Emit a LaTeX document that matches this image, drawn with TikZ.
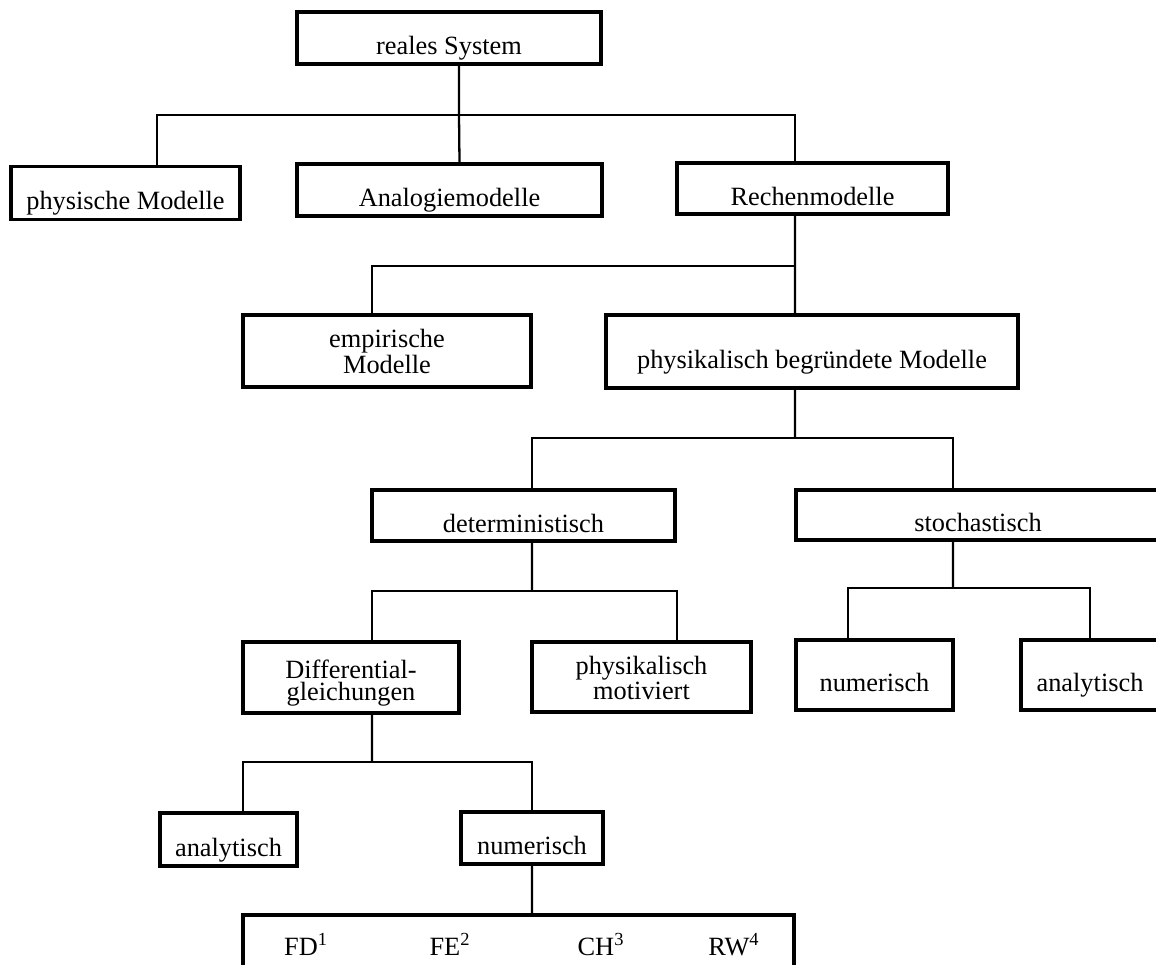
\documentclass[tikz,border=0pt]{standalone}
\usepackage{fontspec}
\setmainfont{Liberation Serif}
\tikzset{
box/.style={
draw,
line width=2pt,
inner sep=2pt,
font=\fontsize{15}{18}\selectfont,
text height=0.66cm,
text depth=0pt
},
twobox/.style={
draw,
line width=2pt,
inner sep=2pt,
align=center,
font=\fontsize{15}{12}\selectfont,
text height=0.9cm,
text depth=0pt
},
method/.style={
anchor=base,
font=\fontsize{15}{18}\selectfont
},
link/.style={
line width=1.3pt
}
}

\begin{document}
\begin{tikzpicture}[x=0.02cm,y=-0.02cm]
\useasboundingbox (0,0) rectangle (1156,964);

\node[box,minimum width=6.08cm,minimum height=1.04cm](rs) at (449,38){reales System};
\node[box,minimum width=4.58cm,minimum height=1.06cm](phy) at (125.5,193){physische Modelle};
\node[box,minimum width=6.10cm,minimum height=1.04cm](ana) at (449.5,190){Analogiemodelle};
\node[box,minimum width=5.42cm,minimum height=1.02cm](rech) at (812.5,188.5){Rechenmodelle};
\node[twobox,minimum width=5.76cm,minimum height=1.44cm](emp) at (387,351){empirische\\Modelle};
\node[box,minimum width=8.24cm,minimum height=1.46cm](pbm) at (812,351.5){physikalisch begr\"undete Modelle};
\node[box,minimum width=6.06cm,minimum height=1.02cm](det) at (523.5,515.5){deterministisch};
\node[box,minimum width=7.28cm,minimum height=1.00cm](sto) at (978,515){stochastisch};
\node[twobox,minimum width=4.32cm,minimum height=1.42cm](dgl) at (351,677.5){Differential-\\gleichungen};
\node[twobox,minimum width=4.38cm,minimum height=1.40cm](pmo) at (641.5,677){physikalisch\\motiviert};
\node[box,minimum width=3.14cm,minimum height=1.40cm](numS) at (874.5,675){numerisch};
\node[box,minimum width=2.76cm,minimum height=1.40cm](anaS) at (1090,675){analytisch};
\node[box,minimum width=2.74cm,minimum height=1.06cm](anaD) at (228.5,839.5){analytisch};
\node[box,minimum width=2.84cm,minimum height=1.04cm](numD) at (532,838){numerisch};
\node[box,minimum width=11.02cm,minimum height=1.20cm](meth) at (518.5,945){};

\node[method](fd) at (306,955){FD\textsuperscript{1}};
\node[method](fe) at (450,955){FE\textsuperscript{2}};
\node[method](ch) at (601,955){CH\textsuperscript{3}};
\node[method](rw) at (734,955){RW\textsuperscript{4}};

\coordinate (j1) at (459,115);
\coordinate (j2) at (795,266);
\coordinate (j3) at (795,438);
\coordinate (j4) at (532,591);
\coordinate (j5) at (953,588);
\coordinate (j6) at (372,762);

\foreach \n/\d/\j in {rs/0.2/j1,rech/-0.35/j2,pbm/-0.34/j3,det/0.17/j4,sto/-0.5/j5,dgl/0.42/j6}
\draw[link]([xshift=\d cm]\n.south)--(\j);

\draw[link](j1)--([xshift=0.2cm]ana.north);
\draw[link]([xshift=0.63cm]phy.north)|-(j1)-|([xshift=-0.35cm]rech.north);
\draw[link](j2)--([xshift=-0.34cm]pbm.north);
\draw[link](j2)-|([xshift=-0.3cm]emp.north);
\draw[link]([xshift=0.17cm]det.north)|-(j3)-|([xshift=-0.5cm]sto.north);
\draw[link]([xshift=0.42cm]dgl.north)|-(j4)-|([xshift=0.71cm]pmo.north);
\draw[link]([xshift=-0.53cm]numS.north)|-(j5)-|(anaS.north);
\draw[link]([xshift=0.29cm]anaD.north)|-(j6)-|(numD.north);
\draw[link](numD.south)--([xshift=0.27cm]meth.north);
\end{tikzpicture}
\end{document}
